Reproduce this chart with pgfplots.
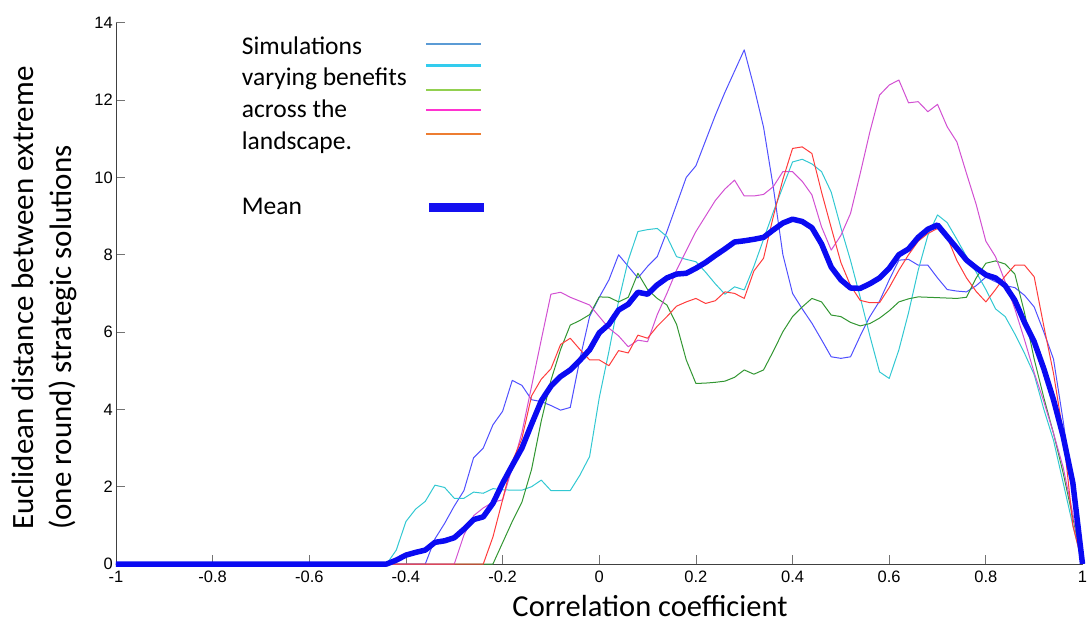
\documentclass[border=0pt]{standalone}
\usepackage{pgfplots}
\pgfplotsset{compat=1.18}
\usepackage{pgfplotstable}
\usepackage{fontspec}
\setmainfont{Carlito}
\newfontfamily\tickfont{Liberation Sans}

% thin simulation curves
\definecolor{simblue}{RGB}{80,80,255}
\definecolor{simcyan}{RGB}{50,200,210}
\definecolor{simgreen}{RGB}{50,150,50}
\definecolor{simmagenta}{RGB}{210,80,210}
\definecolor{simred}{RGB}{255,60,60}
\definecolor{meanblue}{RGB}{10,10,242}
% key swatches
\definecolor{keyblue}{RGB}{91,155,213}
\definecolor{keycyan}{RGB}{51,204,238}
\definecolor{keygreen}{RGB}{146,208,80}
\definecolor{keymagenta}{RGB}{255,51,208}
\definecolor{keyorange}{RGB}{237,125,49}
\definecolor{keymean}{RGB}{20,16,240}

\pgfplotstableread{
x y
-1 0
-0.36 0
-0.34 0.65
-0.32 1.05
-0.30 1.5
-0.28 1.9
-0.26 2.75
-0.24 3.0
-0.22 3.6
-0.20 3.95
-0.18 4.75
-0.16 4.62
-0.14 4.25
-0.12 4.2
-0.10 4.1
-0.08 3.98
-0.06 4.05
-0.04 5.3
-0.02 6.4
0 6.9
0.02 7.35
0.04 8.0
0.06 7.7
0.08 7.4
0.10 7.7
0.12 7.95
0.14 8.6
0.16 9.3
0.18 10.0
0.20 10.3
0.22 10.95
0.24 11.6
0.26 12.2
0.28 12.75
0.30 13.3
0.32 12.35
0.34 11.3
0.36 9.76
0.38 8.0
0.40 7.0
0.42 6.6
0.44 6.23
0.46 5.8
0.48 5.36
0.50 5.32
0.52 5.36
0.54 5.9
0.56 6.4
0.58 6.8
0.60 7.35
0.62 7.86
0.64 7.88
0.66 7.73
0.68 7.73
0.70 7.4
0.72 7.1
0.74 7.06
0.76 7.04
0.78 7.2
0.80 7.42
0.82 7.3
0.84 7.2
0.86 7.15
0.88 6.95
0.90 6.65
0.92 6.0
0.94 5.3
0.96 3.7
0.98 1.9
1.00 0
}\simA

\pgfplotstableread{
x y
-1 0
-0.44 0
-0.42 0.36
-0.40 1.1
-0.38 1.42
-0.36 1.62
-0.34 2.04
-0.32 1.98
-0.30 1.7
-0.28 1.7
-0.26 1.86
-0.24 1.83
-0.22 1.95
-0.20 1.92
-0.18 1.91
-0.16 1.91
-0.14 2.0
-0.12 2.17
-0.10 1.9
-0.08 1.9
-0.06 1.9
-0.04 2.3
-0.02 2.78
0 4.3
0.02 5.5
0.04 6.8
0.06 7.86
0.08 8.6
0.10 8.65
0.12 8.68
0.14 8.47
0.16 7.95
0.18 7.88
0.20 7.82
0.22 7.55
0.24 7.25
0.26 6.98
0.28 7.17
0.30 7.09
0.32 7.7
0.34 8.4
0.36 9.1
0.38 9.76
0.40 10.4
0.42 10.47
0.44 10.35
0.46 10.15
0.48 9.62
0.50 8.7
0.52 7.85
0.54 6.9
0.56 5.9
0.58 4.97
0.60 4.8
0.62 5.54
0.64 6.5
0.66 7.6
0.68 8.5
0.70 9.03
0.72 8.83
0.74 8.4
0.76 7.95
0.78 7.55
0.80 7.1
0.82 6.6
0.84 6.4
0.86 5.95
0.88 5.45
0.90 4.9
0.92 4.0
0.94 3.2
0.96 2.1
0.98 1.0
1.00 0
}\simB

\pgfplotstableread{
x y
-1 0
-0.22 0
-0.20 0.55
-0.18 1.1
-0.16 1.6
-0.14 2.45
-0.12 3.7
-0.10 4.75
-0.08 5.55
-0.06 6.18
-0.04 6.3
-0.02 6.45
0 6.91
0.02 6.9
0.04 6.78
0.06 6.9
0.08 7.52
0.10 7.1
0.12 6.87
0.14 6.7
0.16 6.2
0.18 5.28
0.20 4.67
0.22 4.68
0.24 4.7
0.26 4.73
0.28 4.83
0.30 5.02
0.32 4.91
0.34 5.02
0.36 5.5
0.38 6.01
0.40 6.4
0.42 6.65
0.44 6.87
0.46 6.78
0.48 6.44
0.50 6.4
0.52 6.25
0.54 6.16
0.56 6.22
0.58 6.36
0.60 6.55
0.62 6.78
0.64 6.86
0.66 6.91
0.68 6.9
0.70 6.89
0.72 6.88
0.74 6.87
0.76 6.9
0.78 7.4
0.80 7.78
0.82 7.84
0.84 7.76
0.86 7.5
0.88 6.5
0.90 5.3
0.92 4.3
0.94 3.38
0.96 2.35
0.98 1.2
1.00 0
}\simC

\pgfplotstableread{
x y
-1 0
-0.30 0
-0.28 0.75
-0.26 1.25
-0.24 1.45
-0.22 1.6
-0.20 1.66
-0.18 2.5
-0.16 3.4
-0.14 4.6
-0.12 5.8
-0.10 6.98
-0.08 7.03
-0.06 6.9
-0.04 6.8
-0.02 6.7
0 6.4
0.02 6.1
0.04 5.9
0.06 5.62
0.08 5.79
0.10 5.75
0.12 6.45
0.14 7.0
0.16 7.6
0.18 8.1
0.20 8.6
0.22 9.0
0.24 9.4
0.26 9.7
0.28 9.93
0.30 9.52
0.32 9.52
0.34 9.56
0.36 9.76
0.38 10.15
0.40 10.15
0.42 9.9
0.44 9.55
0.46 8.72
0.48 8.12
0.50 8.5
0.52 9.07
0.54 10.1
0.56 11.18
0.58 12.13
0.60 12.39
0.62 12.52
0.64 11.93
0.66 11.96
0.68 11.7
0.70 11.89
0.72 11.31
0.74 10.92
0.76 10.1
0.78 9.3
0.80 8.35
0.82 7.95
0.84 7.3
0.86 6.6
0.88 5.8
0.90 4.95
0.92 4.2
0.94 3.38
0.96 2.5
0.98 1.3
1.00 0
}\simD

\pgfplotstableread{
x y
-1 0
-0.24 0
-0.22 0.7
-0.20 1.66
-0.18 2.65
-0.16 3.25
-0.14 4.35
-0.12 4.78
-0.10 5.05
-0.08 5.68
-0.06 5.84
-0.04 5.55
-0.02 5.28
0 5.28
0.02 5.13
0.04 5.52
0.06 5.46
0.08 5.92
0.10 5.84
0.12 6.15
0.14 6.4
0.16 6.67
0.18 6.78
0.20 6.87
0.22 6.74
0.24 6.81
0.26 7.04
0.28 7.0
0.30 6.87
0.32 7.58
0.34 7.91
0.36 8.98
0.38 9.95
0.40 10.75
0.42 10.79
0.44 10.62
0.46 9.62
0.48 8.7
0.50 7.8
0.52 7.2
0.54 6.82
0.56 6.76
0.58 6.76
0.60 7.15
0.62 7.6
0.64 8.0
0.66 8.35
0.68 8.55
0.70 8.68
0.72 8.45
0.74 7.85
0.76 7.4
0.78 7.05
0.80 6.78
0.82 7.1
0.84 7.45
0.86 7.73
0.88 7.73
0.90 7.43
0.92 6.15
0.94 4.93
0.96 3.38
0.98 1.0
1.00 0
}\simE

\pgfplotstableread{
x y
-1 0
-0.44 0
-0.42 0.1
-0.40 0.23
-0.38 0.3
-0.36 0.36
-0.34 0.56
-0.32 0.6
-0.30 0.68
-0.28 0.9
-0.26 1.15
-0.24 1.22
-0.22 1.57
-0.20 2.09
-0.18 2.55
-0.16 3.0
-0.14 3.62
-0.12 4.22
-0.10 4.6
-0.08 4.85
-0.06 5.02
-0.04 5.27
-0.02 5.54
0 5.98
0.02 6.2
0.04 6.57
0.06 6.72
0.08 7.03
0.10 6.98
0.12 7.22
0.14 7.4
0.16 7.5
0.18 7.52
0.20 7.65
0.22 7.8
0.24 7.98
0.26 8.15
0.28 8.33
0.30 8.36
0.32 8.4
0.34 8.45
0.36 8.64
0.38 8.82
0.40 8.92
0.42 8.86
0.44 8.7
0.46 8.28
0.48 7.68
0.50 7.35
0.52 7.14
0.54 7.13
0.56 7.25
0.58 7.4
0.60 7.65
0.62 8.0
0.64 8.15
0.66 8.45
0.68 8.66
0.70 8.77
0.72 8.47
0.74 8.17
0.76 7.86
0.78 7.66
0.80 7.48
0.82 7.4
0.84 7.2
0.86 6.82
0.88 6.25
0.90 5.75
0.92 5.05
0.94 4.25
0.96 3.3
0.98 2.1
1.00 0
}\meancurve

\begin{document}
\begin{tikzpicture}
\path[use as bounding box] (-116pt,-58pt) rectangle (971pt,564pt);
\begin{axis}[
  at={(0pt,0pt)}, anchor=south west,
  scale only axis, width=966.5pt, height=541.2pt,
  xmin=-1, xmax=1, ymin=0, ymax=14,
  axis x line=bottom, axis y line=left,
  axis line style={-, draw=black!75, line width=0.8pt},
  xtick={-1,-0.8,-0.6,-0.4,-0.2,0,0.2,0.4,0.6,0.8,1},
  xticklabels={-1,-0.8,-0.6,-0.4,-0.2,0,0.2,0.4,0.6,0.8,1},
  ytick={0,2,4,6,8,10,12,14},
  yticklabels={0,2,4,6,8,10,12,14},
  tick align=inside,
  major tick length=9.5pt,
  tick style={draw=black!55, line width=0.8pt},
  xticklabel style={font=\tickfont\fontsize{16.5}{19}\selectfont, anchor=north, inner sep=0pt, yshift=-7pt},
  yticklabel style={font=\tickfont\fontsize{16.5}{19}\selectfont, anchor=east, inner sep=0pt, xshift=-3pt},
  xlabel={Correlation coefficient},
  xlabel style={at={(axis description cs:0.5525,0)}, anchor=base, inner sep=0pt, yshift=-52pt, font=\fontsize{30.5}{36}\selectfont},
  clip=false,
  every axis plot/.append style={line join=round},
]
\addplot[simblue, line width=1pt] table[x=x,y=y] {\simA};
\addplot[simcyan, line width=1pt] table[x=x,y=y] {\simB};
\addplot[simgreen, line width=1pt] table[x=x,y=y] {\simC};
\addplot[simmagenta, line width=1pt] table[x=x,y=y] {\simD};
\addplot[simred, line width=1pt] table[x=x,y=y] {\simE};
\addplot[meanblue, line width=5.5pt] table[x=x,y=y] {\meancurve};
\end{axis}

% vertical axis title
\node[rotate=90, anchor=north west, align=left, inner sep=0pt,
      font=\fontsize{31}{37.5}\selectfont] at (-104pt,34pt)
  {Euclidean distance between extreme\\(one round) strategic solutions};

% key
\begin{scope}[every node/.style={anchor=base west, inner sep=0pt, font=\fontsize{25.5}{30}\selectfont}]
\node at (125.7pt,509pt) {Simulations};
\node at (125.7pt,478pt) {varying benefits};
\node at (125.7pt,446pt) {across the};
\node at (125.7pt,414pt) {landscape.};
\node at (125.7pt,349pt) {Mean};
\end{scope}
\draw[keyblue, line width=2.5pt] (310pt,520pt) -- (365pt,520pt);
\draw[keycyan, line width=2.5pt] (310pt,498.3pt) -- (365pt,498.3pt);
\draw[keygreen, line width=2.5pt] (310pt,474pt) -- (365pt,474pt);
\draw[keymagenta, line width=2.5pt] (310pt,454pt) -- (365pt,454pt);
\draw[keyorange, line width=2.5pt] (310pt,430pt) -- (365pt,430pt);
\draw[keymean, line width=9pt] (313pt,356.5pt) -- (368pt,356.5pt);
\end{tikzpicture}
\end{document}
